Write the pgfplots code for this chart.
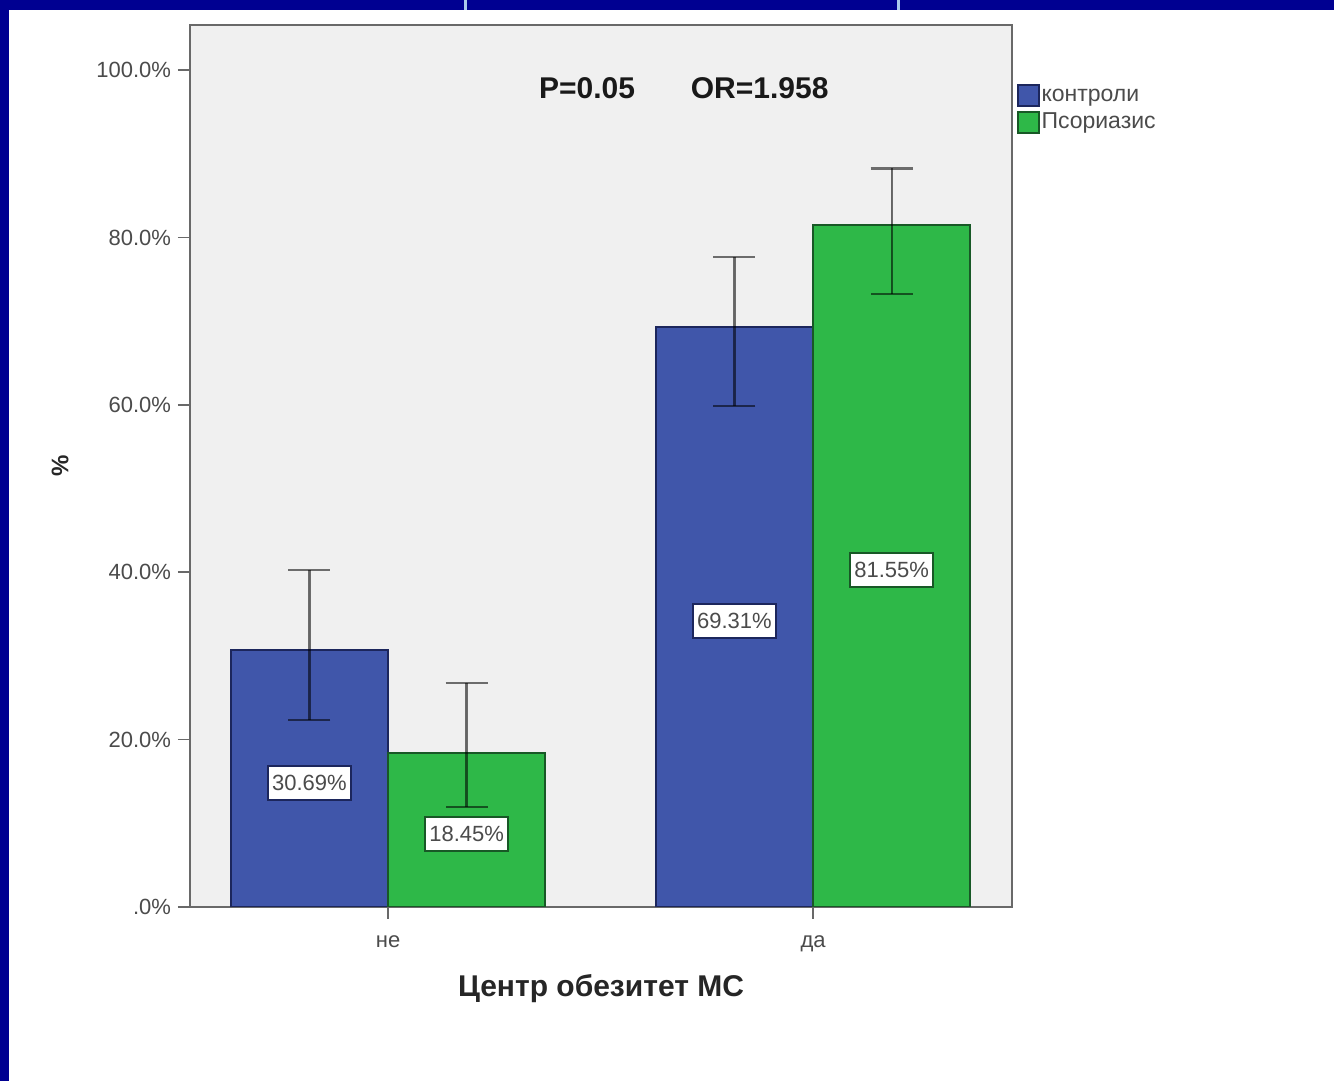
\documentclass[border=0pt]{standalone}
\usepackage{pgfplots}
\pgfplotsset{compat=1.18}
\usepackage{pgfplotstable}
\usepackage{fontspec}
\setmainfont{Liberation Sans}

\definecolor{slidenavy}{RGB}{0,0,145}
\definecolor{slideline}{RGB}{170,200,235}
\definecolor{barblue}{RGB}{64,86,170}
\definecolor{barbluedark}{RGB}{28,38,92}
\definecolor{bargreen}{RGB}{46,184,72}
\definecolor{bargreendark}{RGB}{24,88,38}
\definecolor{plotbg}{RGB}{240,240,240}
\definecolor{framegray}{RGB}{105,105,105}
\definecolor{ticktext}{RGB}{75,75,75}

% x = bar centre, v = percentage, ep/em = upper/lower error
\pgfplotstableread{
x      v     ep   em
-0.185 30.69 9.57 8.35
0.815  69.31 8.39 9.45
}\controls
\pgfplotstableread{
x      v     ep   em
0.185  18.45 8.35 6.47
1.185  81.55 6.70 8.31
}\psoriasis

\begin{document}
\begin{tikzpicture}
% slide background
\fill[slidenavy] (0pt,0pt) rectangle (667pt,540.5pt);
\fill[white] (4.5pt,0pt) rectangle (667pt,535.5pt);
\fill[slideline] (231.75pt,535.5pt) rectangle (233.25pt,540.5pt);
\fill[slideline] (448.25pt,535.5pt) rectangle (449.75pt,540.5pt);

\begin{axis}[
  at={(95pt,87pt)}, anchor=south west,
  width=411pt, height=441pt, scale only axis,
  xmin=-0.466, xmax=1.468, ymin=0, ymax=105.4,
  axis background/.style={fill=plotbg},
  axis line style={framegray, line width=1pt},
  xtick={0,1}, xticklabels={не,да},
  ytick={0,20,40,60,80,100},
  yticklabels={.0\%,20.0\%,40.0\%,60.0\%,80.0\%,100.0\%},
  xtick pos=bottom, ytick pos=left,
  tick align=outside,
  major tick length=6pt,
  tick style={framegray, line width=0.8pt},
  ticklabel style={font=\fontsize{11}{13}\selectfont, text=ticktext},
  xticklabel style={yshift=-5pt},
  /pgf/number format/assume math mode=true,
  xlabel={Центр обезитет МС},
  xlabel style={font=\bfseries\fontsize{15}{18}\selectfont, text=black!85,
    at={(axis description cs:0.5,-0.092)}, anchor=center},
  ylabel={\%},
  ylabel style={font=\bfseries\fontsize{12}{14}\selectfont, text=black!85,
    at={(axis description cs:-0.158,0.5)}, anchor=center},
  legend image code/.code={\draw[#1, line width=1pt] (0pt,-5pt) rectangle (10.5pt,5.5pt);},
  legend cell align=left,
  legend style={at={(1.005,0.935)}, anchor=north west, draw=none, fill=none,
    font=\fontsize{11.5}{13}\selectfont, text=ticktext, row sep=0pt, inner sep=0pt,
    nodes={text height=8.5pt, text depth=3pt, inner sep=1pt}},
  error bars/y dir=both,
  error bars/y explicit,
  error bars/error bar style={black, opacity=0.55, line width=1.2pt},
  error bars/error mark options={rotate=90, mark size=10.5pt, black, opacity=0.55, line width=1.2pt},
]
\addplot[ybar, bar width=0.369, bar shift=0pt, fill=barblue, draw=barbluedark, line width=1pt]
  table[x=x, y=v, y error plus=ep, y error minus=em] {\controls};
\addlegendentry{контроли}
\addplot[ybar, bar width=0.369, bar shift=0pt, fill=bargreen, draw=bargreendark, line width=1pt]
  table[x=x, y=v, y error plus=ep, y error minus=em] {\psoriasis};
\addlegendentry{Псориазис}

% value labels in the middle of each bar
\addplot[forget plot, draw=none, no marks, point meta=explicit,
  nodes near coords={\pgfmathprintnumber[fixed,fixed zerofill,precision=2]{\pgfplotspointmeta}\%},
  every node near coord/.style={anchor=center, fill=white, draw=barbluedark, line width=1pt,
    inner sep=2pt, minimum height=17pt, text=ticktext, font=\fontsize{11}{13}\selectfont, yshift=-2pt}]
  table[x=x, y expr=\thisrow{v}/2, meta=v] {\controls};
\addplot[forget plot, draw=none, no marks, point meta=explicit,
  nodes near coords={\pgfmathprintnumber[fixed,fixed zerofill,precision=2]{\pgfplotspointmeta}\%},
  every node near coord/.style={anchor=center, fill=white, draw=bargreendark, line width=1pt,
    inner sep=2pt, minimum height=17pt, text=ticktext, font=\fontsize{11}{13}\selectfont, yshift=-2pt}]
  table[x=x, y expr=\thisrow{v}/2, meta=v] {\psoriasis};

\node[font=\bfseries\fontsize{15}{18}\selectfont, text=black!90] at (rel axis cs:0.483,0.9286) {P=0.05};
\node[font=\bfseries\fontsize{15}{18}\selectfont, text=black!90] at (rel axis cs:0.693,0.9286) {OR=1.958};
\end{axis}
\end{tikzpicture}
\end{document}
